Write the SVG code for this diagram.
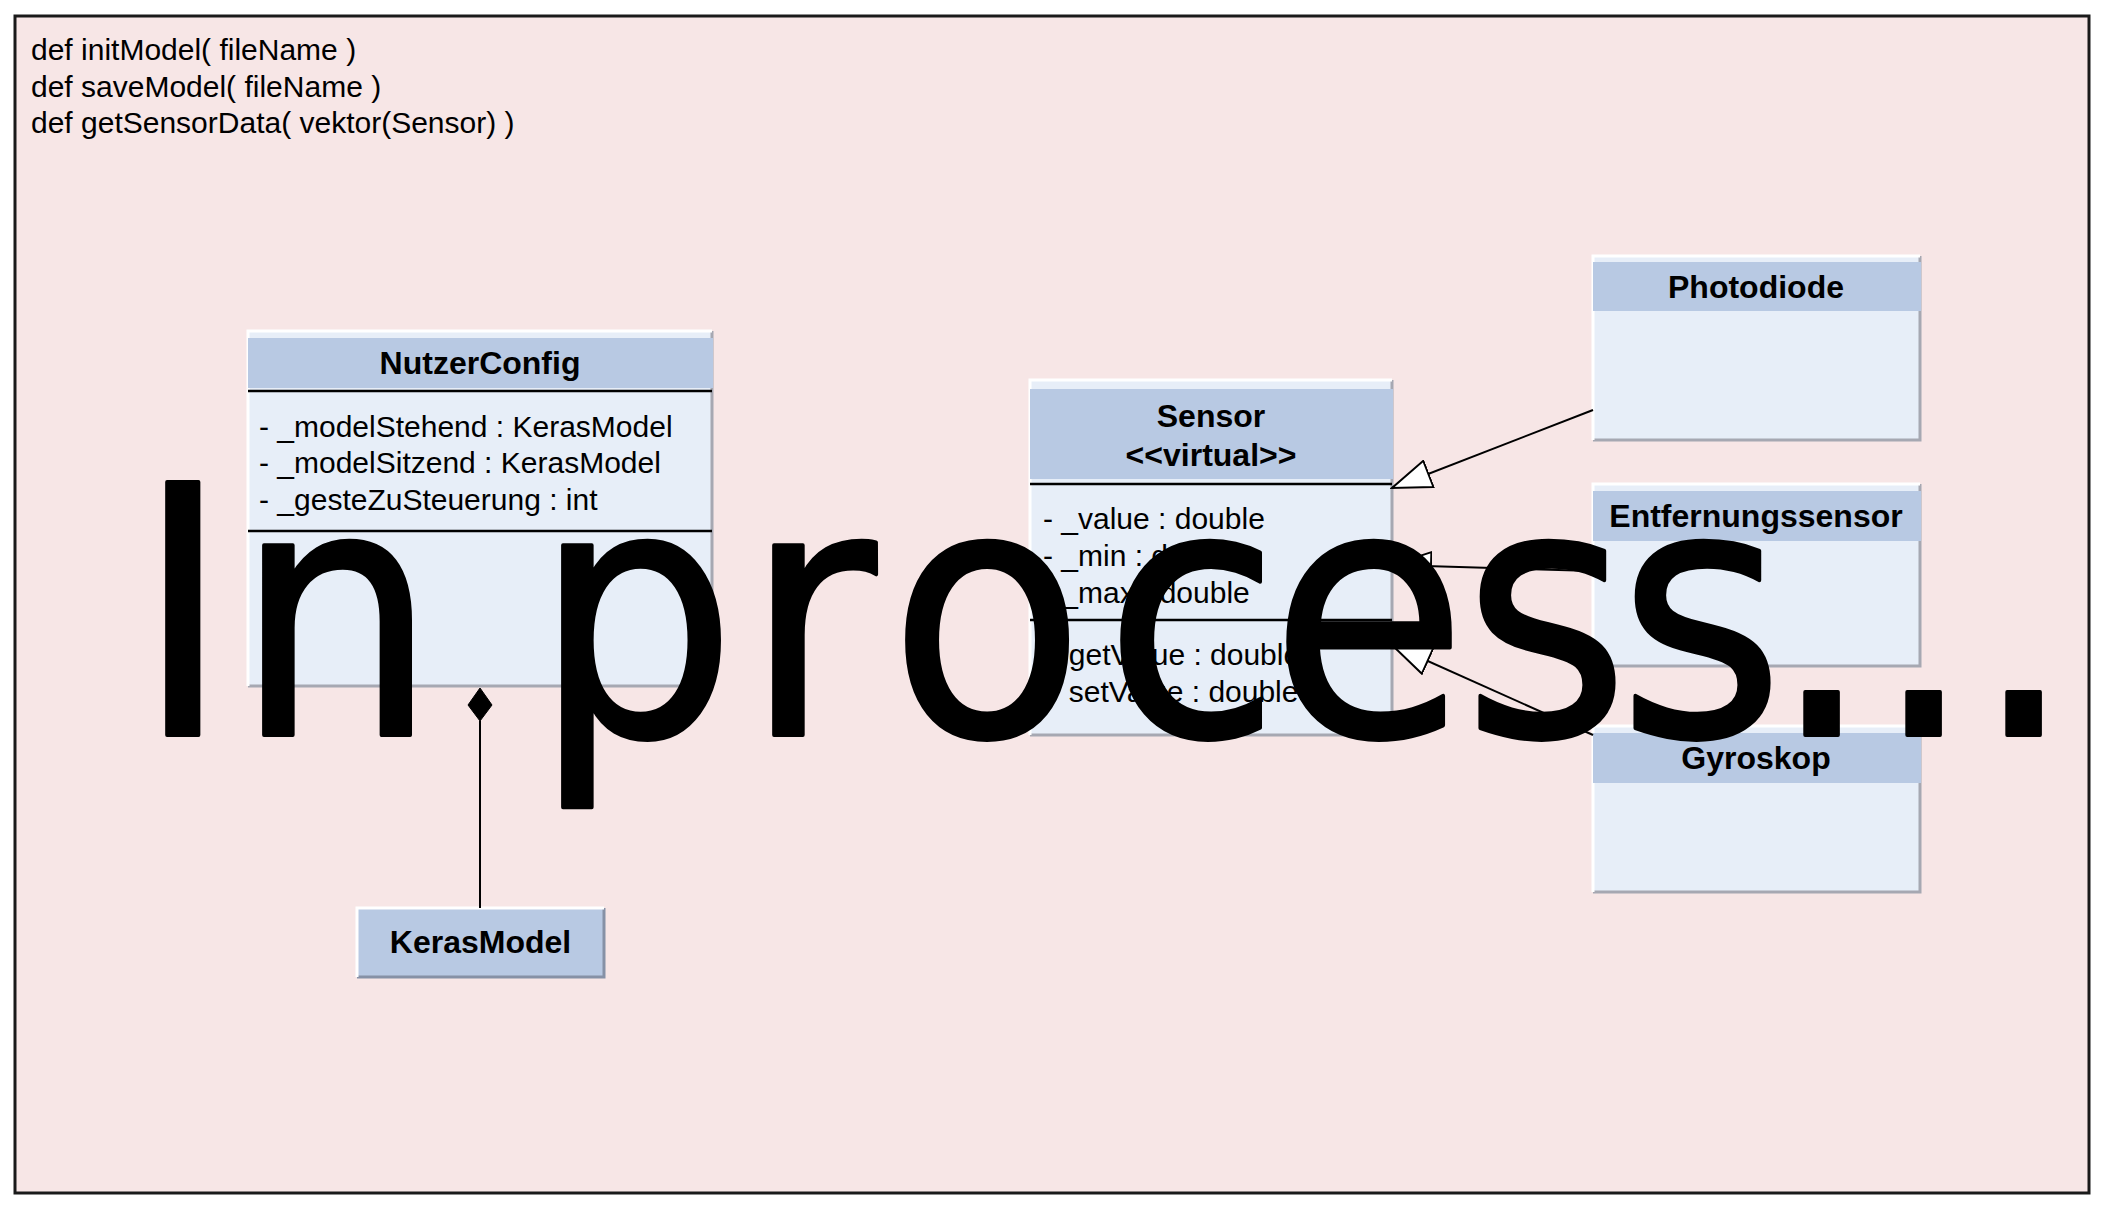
<svg xmlns="http://www.w3.org/2000/svg" width="2104" height="1210" viewBox="0 0 2104 1210">
<defs>
<style>
.bg{fill:#F7E6E6;stroke:#1A1A1A;stroke-width:3}
.body{fill:#E7EEF8}
.head{fill:#B8C9E3}
.hl{fill:none;stroke:#FFFFFF;stroke-width:3}
.sh{fill:none;stroke:#A6A8B2;stroke-width:3}
.sh2{fill:none;stroke:#8691A6;stroke-width:3}
.div{stroke:#000;stroke-width:2.5}
.title{font-family:"Liberation Sans",Arial,sans-serif;font-weight:bold;font-size:32px;text-anchor:middle;fill:#000}
.attr{font-family:"Liberation Sans",Arial,sans-serif;font-size:30px;fill:#000}
.code{font-family:"Liberation Sans",Arial,sans-serif;font-size:30px;fill:#000}
.con{fill:none;stroke:#000;stroke-width:2}
.over{font-family:"DejaVu Sans",Verdana,sans-serif;font-size:347px;fill:#000;stroke:#000;stroke-width:4;stroke-linejoin:round}
</style>
<marker id="gen" markerUnits="userSpaceOnUse" viewBox="0 0 42 30" markerWidth="42" markerHeight="30" refX="40" refY="15" orient="auto">
<path d="M1,1 L40,15 L1,29 Z" fill="#FFFFFF" stroke="#000" stroke-width="2"/>
</marker>
</defs>
<rect class="bg" x="15" y="16" width="2074" height="1177"/>
<g id="code">
<text class="code" x="31" y="60">def initModel( fileName )</text>
<text class="code" x="31" y="97">def saveModel( fileName )</text>
<text class="code" x="31" y="133">def getSensorData( vektor(Sensor) )</text>
</g>
<g id="nutzerconfig">
<rect class="body" x="248" y="331" width="464" height="355"/>
<path class="sh" d="M712,331 V686 H248"/>
<path class="hl" d="M248,686 V331 H712"/>
<rect class="head" x="248" y="338" width="465" height="50"/>
<text class="title" x="480" y="374">NutzerConfig</text>
<line class="div" x1="248" y1="391" x2="712" y2="391"/>
<text class="attr" x="259" y="437">- _modelStehend : KerasModel</text>
<text class="attr" x="259" y="473">- _modelSitzend : KerasModel</text>
<text class="attr" x="259" y="510">- _gesteZuSteuerung : int</text>
<line class="div" x1="248" y1="531" x2="712" y2="531"/>
</g>
<g id="sensor">
<rect class="body" x="1030" y="380" width="362" height="355"/>
<path class="sh" d="M1392,380 V735 H1030"/>
<path class="hl" d="M1030,735 V380 H1392"/>
<rect class="head" x="1030" y="389" width="363" height="90"/>
<text class="title" x="1211" y="427">Sensor</text>
<text class="title" x="1211" y="466">&lt;&lt;virtual&gt;&gt;</text>
<line class="div" x1="1030" y1="484" x2="1392" y2="484"/>
<text class="attr" x="1043" y="529">- _value : double</text>
<text class="attr" x="1043" y="566">- _min : double</text>
<text class="attr" x="1043" y="603">- _max : double</text>
<line class="div" x1="1030" y1="620" x2="1392" y2="620"/>
<text class="attr" x="1043" y="665">+ getValue : double</text>
<text class="attr" x="1043" y="702">+ setValue : double</text>
</g>
<g id="photodiode">
<rect class="body" x="1593" y="256" width="327" height="184"/>
<path class="sh" d="M1920,256 V440 H1593"/>
<path class="hl" d="M1593,440 V256 H1920"/>
<rect class="head" x="1593" y="262" width="328" height="49"/>
<text class="title" x="1756" y="298">Photodiode</text>
</g>
<g id="entfernungssensor">
<rect class="body" x="1593" y="484" width="327" height="182"/>
<path class="sh" d="M1920,484 V666 H1593"/>
<path class="hl" d="M1593,666 V484 H1920"/>
<rect class="head" x="1593" y="491" width="328" height="50"/>
<text class="title" x="1756" y="527">Entfernungssensor</text>
</g>
<g id="gyroskop">
<rect class="body" x="1593" y="726" width="327" height="166"/>
<path class="sh" d="M1920,726 V892 H1593"/>
<path class="hl" d="M1593,892 V726 H1920"/>
<rect class="head" x="1593" y="733" width="328" height="50"/>
<text class="title" x="1756" y="769">Gyroskop</text>
</g>
<g id="kerasmodel">
<rect class="head" x="357" y="908" width="247" height="69"/>
<path class="sh2" d="M604,908 V977 H357"/>
<path class="hl" d="M357,977 V908 H604"/>
<text class="title" x="480.5" y="953">KerasModel</text>
</g>
<g id="connectors">
<line class="con" x1="480" y1="721" x2="480" y2="908"/>
<polygon points="480,688 492,705 480,721 468,705" fill="#000" stroke="#000" stroke-width="1"/>
<line class="con" x1="1593" y1="410" x2="1392" y2="488" marker-end="url(#gen)"/>
<line class="con" x1="1593" y1="571" x2="1392" y2="565" marker-end="url(#gen)"/>
<line class="con" x1="1593" y1="735" x2="1392" y2="645" marker-end="url(#gen)"/>
</g>
<text class="over" transform="translate(0,735) scale(0.92,1)" x="147.5 255.4 475 580.4 809.8 966.7 1200.5 1381 1590.2 1758.7 1925 2035.9 2144.6" y="0">In process...</text>
</svg>
